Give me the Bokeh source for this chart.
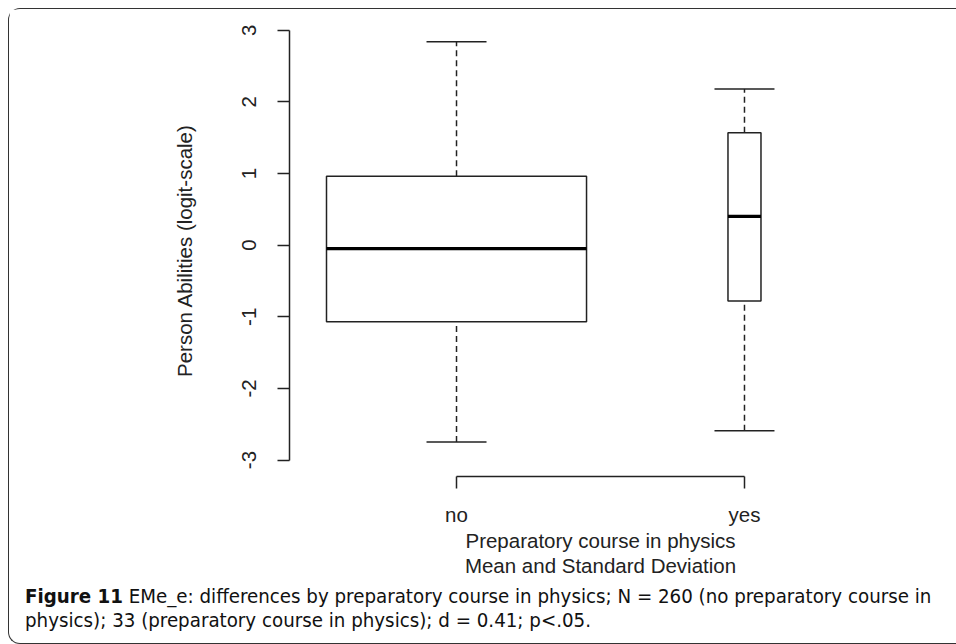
from bokeh.plotting import figure
from bokeh.models import Range1d, FixedTicker, ColumnDataSource, Whisker, TeeHead, Div
from bokeh.layouts import column
from bokeh.embed import file_html
from bokeh.resources import INLINE

# ---- data ----
categories = ["no", "yes"]
group_n = [260, 33]
whisker_low = [-2.75, -2.59]
quartile_1 = [-1.07, -0.78]
medians = [-0.05, 0.40]
quartile_3 = [0.96, 1.57]
whisker_high = [2.84, 2.18]
y_ticks = [-3, -2, -1, 0, 1, 2, 3]

x_title = "Preparatory course in physics\nMean and Standard Deviation"
y_title = "Person Abilities (logit-scale)"
caption_bold = "Figure 11"
caption_line1 = "EMe_e: differences by preparatory course in physics; N = 260 (no preparatory course in"
caption_line2 = "physics); 33 (preparatory course in physics); d = 0.41; p&lt;.05."

positions = list(range(1, len(categories) + 1))
box_scale = 0.903 / max(group_n)
box_w = [n * box_scale for n in group_n]

src = ColumnDataSource(dict(
    x=positions,
    w=box_w,
    x0=[x - w / 2 for x, w in zip(positions, box_w)],
    x1=[x + w / 2 for x, w in zip(positions, box_w)],
    lo=whisker_low, q1=quartile_1, med=medians, q3=quartile_3, hi=whisker_high,
))

AX_FONT = "'Liberation Sans', Arial, Helvetica, sans-serif"
CAP_FONT = "'Liberation Sans Narrow', 'DejaVu Sans Condensed', 'Open Sans', sans-serif"
INK = "#222222"

p = figure(width=944, height=570, output_backend="svg", toolbar_location=None,
           x_range=Range1d(0.42, 2.58), y_range=Range1d(-3.23, 3.08),
           min_border_left=280, min_border_right=42, min_border_top=15, min_border_bottom=80)
p.grid.visible = False
p.outline_line_color = None
p.background_fill_color = "white"
p.border_fill_color = "white"

# whiskers (dashed) with solid caps
for lower_col, upper_col, head_side in (("q3", "hi", "upper"), ("lo", "q1", "lower")):
    head = TeeHead(size=60, line_color=INK, line_width=1.5)
    kw = {"upper_head": head, "lower_head": None} if head_side == "upper" else {"upper_head": None, "lower_head": head}
    p.add_layout(Whisker(source=src, base="x", lower=lower_col, upper=upper_col, dimension="height",
                         line_color=INK, line_width=1.5, line_dash="6 4", **kw))
# boxes
p.vbar(x="x", width="w", bottom="q1", top="q3", source=src, fill_color="white", line_color=INK, line_width=1.5)
# medians
p.segment(x0="x0", y0="med", x1="x1", y1="med", source=src, line_color="black", line_width=3.2)

# axes
p.xaxis.ticker = FixedTicker(ticks=positions)
p.xaxis.major_label_overrides = {pos: c for pos, c in zip(positions, categories)}
p.xaxis.bounds = (positions[0], positions[-1])
p.yaxis.ticker = FixedTicker(ticks=y_ticks)
p.yaxis.major_label_overrides = {t: str(t) for t in y_ticks}
p.yaxis.bounds = (y_ticks[0], y_ticks[-1])
p.yaxis.major_label_orientation = "vertical"
for ax in (p.xaxis, p.yaxis):
    ax.axis_line_color = INK
    ax.axis_line_width = 1.5
    ax.major_tick_line_color = INK
    ax.major_tick_line_width = 1.5
    ax.major_tick_out = 12
    ax.major_tick_in = 0
    ax.minor_tick_line_color = None
    ax.major_label_text_font = AX_FONT
    ax.major_label_text_font_size = "20.5px"
    ax.major_label_text_color = INK
    ax.axis_label_text_font = AX_FONT
    ax.axis_label_text_font_size = "20.5px"
    ax.axis_label_text_font_style = "normal"
    ax.axis_label_text_color = INK
p.xaxis.major_label_standoff = 14
p.xaxis.axis_label = x_title
p.xaxis.axis_label_standoff = 0
p.xaxis.axis_label_text_line_height = 1.1
p.yaxis.major_label_standoff = 21
p.yaxis.axis_label = y_title
p.yaxis.axis_label_standoff = 44

caption = Div(
    text=f"<b>{caption_bold}</b> {caption_line1}<br>{caption_line2}",
    width=944, height=54,
    styles={"font-family": CAP_FONT, "font-size": "20.3px", "line-height": "24px",
            "color": "#111111", "white-space": "nowrap", "padding-left": "11px",
            "padding-top": "0px", "font-stretch": "condensed"},
)

layout = column(p, caption, spacing=0)
layout.styles = {"margin-left": "8px", "margin-top": "8px",
                 "border-left": "1.5px solid #333", "border-top": "1.5px solid #333",
                 "border-bottom": "1.5px solid #333",
                 "border-top-left-radius": "12px", "border-bottom-left-radius": "12px"}

open("out.html", "w").write(file_html(layout, INLINE))
